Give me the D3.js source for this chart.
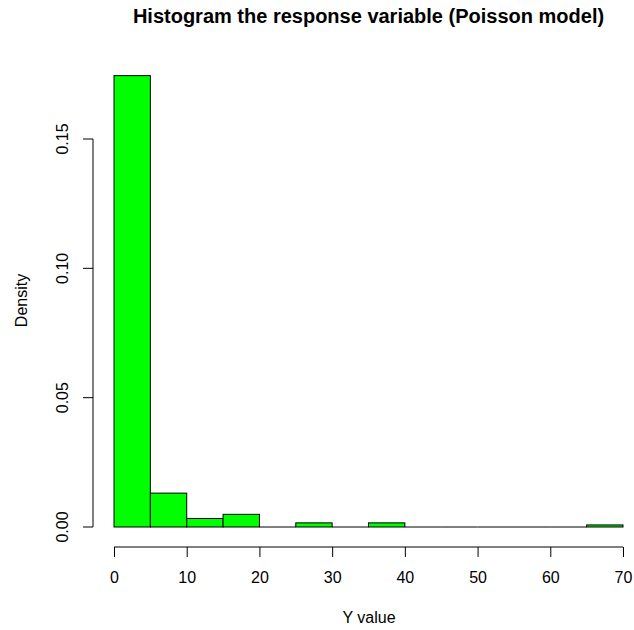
<!DOCTYPE html>
<html><head><meta charset="utf-8">
<script src="https://cdn.jsdelivr.net/npm/d3@7"></script>
<style>body{margin:0;background:#fff}text{font-family:"Liberation Sans",Arial,sans-serif}</style>
</head><body>
<svg id="c" width="634" height="630"></svg>
<script>
const binStarts = [0,5,10,15,20,25,30,35,40,45,50,55,60,65];
const binWidth = 5;
const densities = [0.1745,0.0131,0.0033,0.0049,0,0.0016,0,0.0016,0,0,0,0,0,0.0008];
const xTicks = [0,10,20,30,40,50,60,70];
const yTicks = [0.00,0.05,0.10,0.15];
const title = "Histogram the response variable (Poisson model)";
const xLabel = "Y value";
const yLabel = "Density";

const svg = d3.select("#c");
const x = d3.scaleLinear().domain([0,70]).range([114,623]);
const y = d3.scaleLinear().domain([0,0.15]).range([527,139]);

svg.selectAll("rect.bar").data(binStarts).enter().append("rect")
  .attr("class","bar")
  .attr("x",(d)=>x(d)).attr("width",(d)=>x(d+binWidth)-x(d))
  .attr("y",(d,i)=>y(densities[i])).attr("height",(d,i)=>y(0)-y(densities[i]))
  .attr("fill","#00ff00").attr("stroke","#000").attr("stroke-width",1);
svg.selectAll("line.zero").data(binStarts.filter((d,i)=>densities[i]===0)).enter().append("line")
  .attr("x1",d=>x(d)).attr("x2",d=>x(d+binWidth)).attr("y1",y(0)).attr("y2",y(0))
  .attr("stroke","#000");

const xAxis = svg.append("g").attr("transform","translate(0,547)")
  .call(d3.axisBottom(x).tickValues(xTicks).tickSize(10).tickFormat(d3.format("d")));
xAxis.selectAll("text").attr("font-size",16).attr("fill","#000")
  .attr("font-family","Liberation Sans, Arial, sans-serif").attr("y",36).attr("dy",null);
xAxis.selectAll("line,path").attr("stroke","#000");
xAxis.select("path").attr("d",`M${x(0)},0H${x(70)}`);

const yAxis = svg.append("g").attr("transform","translate(93,0)")
  .call(d3.axisLeft(y).tickValues(yTicks).tickSize(10).tickFormat(d3.format(".2f")));
yAxis.selectAll("line,path").attr("stroke","#000");
yAxis.select("path").attr("d",`M0,${y(0)}V${y(0.15)}`);
yAxis.selectAll("text").attr("font-size",16).attr("fill","#000")
  .attr("font-family","Liberation Sans, Arial, sans-serif")
  .attr("text-anchor","middle").attr("dy",null).attr("x",null).attr("y",0)
  .attr("transform",d=>`translate(-25.5,${y(d)}) rotate(-90)`);
yAxis.selectAll(".tick").attr("transform",null);
yAxis.selectAll(".tick line").attr("y1",d=>y(d)).attr("y2",d=>y(d));

svg.append("text").attr("x",368.5).attr("y",23).attr("text-anchor","middle")
  .attr("font-size",20).attr("font-weight","bold").text(title);
svg.append("text").attr("x",369).attr("y",623).attr("text-anchor","middle")
  .attr("font-size",16).text(xLabel);
svg.append("text").attr("transform","translate(26.5,300.5) rotate(-90)").attr("text-anchor","middle")
  .attr("font-size",16).text(yLabel);
</script>
</body></html>
